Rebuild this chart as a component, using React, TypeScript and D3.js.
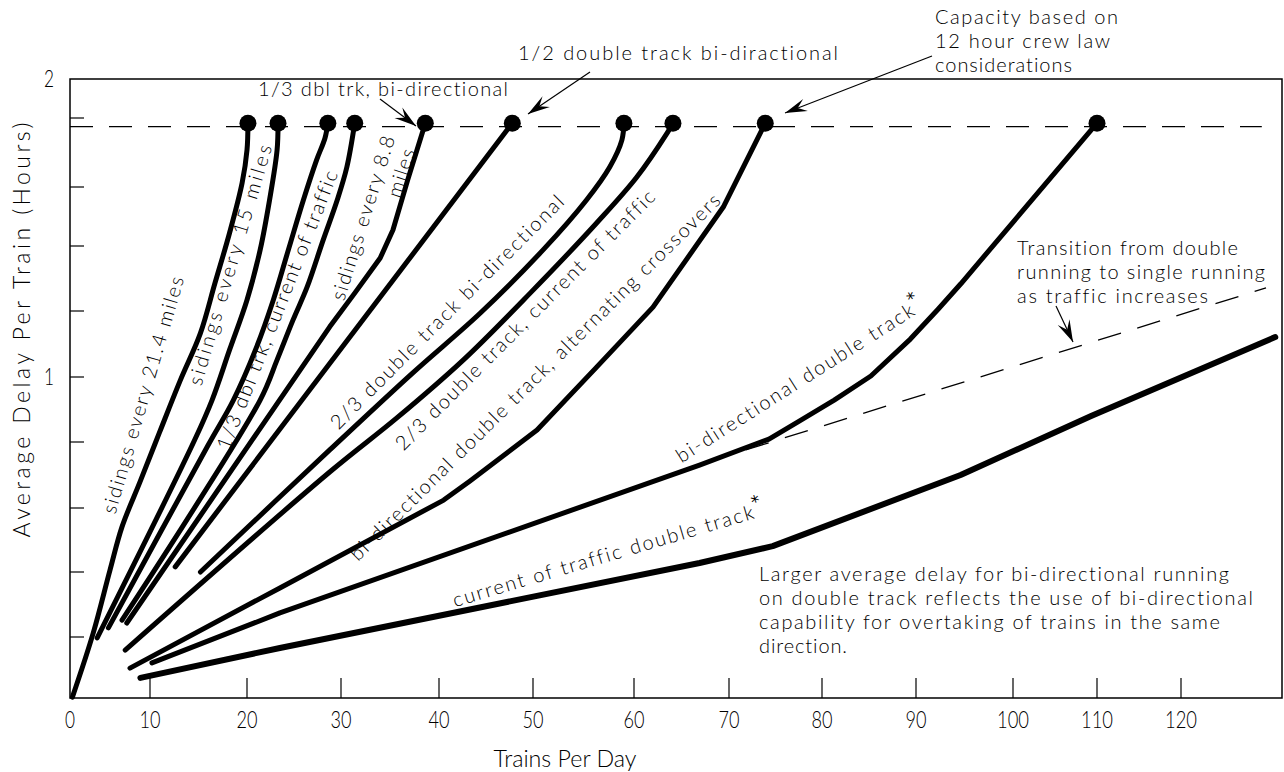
import React from "react";
import * as d3 from "d3";

type Pt = [number, number];

// ---------- axis ticks ----------
const xTickValues = [0, 10, 20, 30, 40, 50, 60, 70, 80, 90, 100, 110, 120];
const yTickValues = [0.2, 0.4, 0.6, 0.8, 1.0, 1.2, 1.4, 1.6, 1.8];
const yLabelValues = [1, 2];

// ---------- capacity (12 hour crew law) ----------
const capacityDelay = 1.775;
const capacityMaxTrains = 129.6;

// ---------- series: [trains per day, average delay (hours)] ----------
const sidings21: Pt[] = [[0.3, 0.003], [2.9, 0.212], [5.0, 0.406], [6.5, 0.541], [8.75, 0.679], [11.0, 0.831], [13.1, 0.988], [15.2, 1.133], [16.7, 1.286], [18.2, 1.444], [19.5, 1.612], [20.0, 1.707], [20.1, 1.785]];
const sidings15: Pt[] = [[3.4, 0.197], [14.6, 0.806], [16.4, 0.929], [18.2, 1.082], [20.0, 1.234], [21.4, 1.388], [22.4, 1.556], [23.2, 1.707], [23.3, 1.785]];
const thirdDblCurrent: Pt[] = [[4.8, 0.228], [16.0, 0.791], [18.6, 0.929], [20.9, 1.082], [22.8, 1.234], [24.4, 1.388], [26.0, 1.556], [27.4, 1.678], [28.3, 1.742], [28.6, 1.785]];
const sidings88: Pt[] = [[6.5, 0.252], [21.4, 0.929], [23.2, 1.052], [24.9, 1.173], [26.4, 1.274], [28.1, 1.42], [29.6, 1.556], [30.6, 1.658], [31.4, 1.785]];
const thirdDblBidir: Pt[] = [[7.1, 0.243], [28.8, 1.152], [31.4, 1.255], [34.0, 1.363], [35.3, 1.454], [36.8, 1.62], [38.6, 1.785]];
const halfDblBidir: Pt[] = [[12.6, 0.416], [47.8, 1.785]];
const twoThirdsBidir: Pt[] = [[15.2, 0.4], [28.8, 0.776], [37.3, 1.012], [44.4, 1.194], [51.0, 1.388], [55.3, 1.556], [57.6, 1.658], [58.8, 1.736], [59.0, 1.785]];
const twoThirdsCurrent: Pt[] = [[6.9, 0.157], [28.8, 0.709], [35.7, 0.874], [42.6, 1.052], [49.7, 1.255], [56.3, 1.478], [60.3, 1.629], [63.5, 1.757], [64.1, 1.785]];
const bidirAltCrossovers: Pt[] = [[7.5, 0.098], [23.5, 0.351], [40.5, 0.624], [43.3, 0.682], [50.4, 0.837], [56.3, 1.03], [62.0, 1.212], [69.4, 1.532], [73.9, 1.785]];
const bidirDouble: Pt[] = [[10.2, 0.115], [23.5, 0.274], [66.9, 0.73], [74.3, 0.809], [77.6, 0.865], [81.3, 0.929], [85.2, 1.003], [89.4, 1.115], [92.3, 1.206], [94.6, 1.283], [110.0, 1.785]];
const currentDouble: Pt[] = [[8.8, 0.066], [23.5, 0.164], [66.9, 0.428], [74.7, 0.481], [94.6, 0.7], [109.3, 0.88], [131.2, 1.121]];
const transitionLine: Pt[] = [[71.8, 0.776], [130.1, 1.271]];

const W = 1284;
const H = 772;

function arrowHead(sx: number, sy: number, tx: number, ty: number, L = 22, Wd = 6.5) {
  const dx = tx - sx, dy = ty - sy;
  const len = Math.hypot(dx, dy);
  const ux = dx / len, uy = dy / len;
  const nx = -uy, ny = ux;
  const bx = tx - ux * L, by = ty - uy * L;
  const mx = tx - ux * L * 0.62, my = ty - uy * L * 0.62;
  return `M${tx},${ty}L${bx + nx * Wd},${by + ny * Wd}L${mx},${my}L${bx - nx * Wd},${by - ny * Wd}Z`;
}

export default function App() {
  // hand-drawn axis calibration (piecewise linear)
  const x = d3
    .scaleLinear()
    .domain([0, 10, 20, 30, 40, 50, 60, 70, 80, 90, 100, 110, 120, 132])
    .range([70, 150, 247, 341, 439, 533, 634, 729, 822, 916, 1013, 1097, 1181, 1282]);
  const y = d3
    .scaleLinear()
    .domain([0, 0.2, 0.4, 0.6, 0.8, 1.0, 1.2, 1.4, 1.6, 1.8, 2.0])
    .range([698, 637, 572, 508, 442, 377, 311, 246, 187, 118, 79]);

  const straight = d3.line<Pt>().x((d) => x(d[0])).y((d) => y(d[1]));
  const smooth = d3
    .line<Pt>()
    .x((d) => x(d[0]))
    .y((d) => y(d[1]))
    .curve(d3.curveCatmullRom.alpha(0.5));

  const series = [
    { pts: sidings21, curve: smooth, dot: true, w: 5 },
    { pts: sidings15, curve: smooth, dot: true, w: 5 },
    { pts: thirdDblCurrent, curve: smooth, dot: true, w: 5 },
    { pts: sidings88, curve: smooth, dot: true, w: 5 },
    { pts: thirdDblBidir, curve: straight, dot: true, w: 5 },
    { pts: halfDblBidir, curve: straight, dot: true, w: 5 },
    { pts: twoThirdsBidir, curve: smooth, dot: true, w: 5 },
    { pts: twoThirdsCurrent, curve: smooth, dot: true, w: 5 },
    { pts: bidirAltCrossovers, curve: straight, dot: true, w: 5 },
    { pts: bidirDouble, curve: straight, dot: true, w: 5 },
    { pts: currentDouble, curve: straight, dot: false, w: 6 },
  ];

  const x0 = x(0), x1 = x(132), yTop = y(2), yBot = y(0);
  const font = "Lato, 'DejaVu Sans', sans-serif";
  const fw = 300;
  const annSize = 20;
  const axSize = 23;

  const rotLabels = [
    { t: "sidings every 21.4 miles", cx: 143, cy: 395, a: -73.7, len: 246 },
    { t: "sidings every 15 miles", cx: 230, cy: 265, a: -73.5, len: 250 },
    { t: "1/3 dbl trk, current of traffic", cx: 277, cy: 310, a: -68.5, len: 298 },
    { t: "sidings every 8.8", cx: 363, cy: 218, a: -72.6, len: 171 },
    { t: "miles", cx: 401, cy: 173, a: -72, len: 50 },
    { t: "2/3 double track bi-directional", cx: 447, cy: 312, a: -45, len: 321 },
    { t: "2/3 double track, current of traffic", cx: 525, cy: 320, a: -45, len: 358 },
    { t: "bi-directional double track, alternating crossovers", cx: 535, cy: 377, a: -44.7, len: 512 },
  ];

  const starLabels = [
    { t: "bi-directional double track", cx: 795, cy: 383, a: -32.4, len: 278 },
    { t: "current of traffic double track", cx: 603, cy: 556, a: -16.5, len: 313 },
  ];

  const arrows = [
    { sx: 380, sy: 99, tx: 416, ty: 126 },
    { sx: 590, sy: 72, tx: 528, ty: 114 },
    { sx: 932, sy: 56, tx: 785, ty: 113 },
    { sx: 1056, sy: 306, tx: 1073, ty: 342 },
  ];

  const blocks = [
    { x: 935, lines: [["Capacity based on", 24, 183], ["12 hour crew law", 48, 175], ["considerations", 72, 137]] },
    { x: 1017, lines: [["Transition from double", 255, 221], ["running to single running", 279, 248], ["as traffic increases", 303, 191]] },
    {
      x: 759,
      lines: [
        ["Larger average delay for bi-directional running", 581, 470],
        ["on double track reflects the use of bi-directional", 605, 494],
        ["capability for overtaking of trains in the same", 629, 461],
        ["direction.", 653, 88],
      ],
    },
    { x: 258, lines: [["1/3 dbl trk, bi-directional", 96, 250]] },
    { x: 518, lines: [["1/2 double track bi-diractional", 60, 320]] },
  ];

  return (
    <svg
      width={W}
      height={H}
      viewBox={`0 0 ${W} ${H}`}
      style={{ position: "absolute", left: 0, top: 0, background: "#fff", fontVariantLigatures: "none" }}
      fontFamily={font}
      fontWeight={fw}
    >
      <rect x={0} y={0} width={W} height={H} fill="#fff" />

      {/* frame */}
      <path d={`M${x0},${yTop}H${x1}V${yBot}H${x0}Z`} fill="none" stroke="#000" strokeWidth={1.5} />

      {/* x ticks */}
      {xTickValues.slice(1).map((v) => (
        <line key={`xt${v}`} x1={x(v)} x2={x(v)} y1={yBot} y2={yBot - 20} stroke="#000" strokeWidth={1.2} />
      ))}
      {xTickValues.map((v) => {
        const s = String(v);
        return (
          <text
            key={`xl${v}`}
            x={x(v)}
            y={728}
            fontSize={axSize}
            textAnchor="middle"
            textLength={11 * s.length - 1}
            lengthAdjust="spacingAndGlyphs"
          >
            {s}
          </text>
        );
      })}

      {/* y ticks */}
      {yTickValues.map((v) => (
        <line key={`yt${v}`} x1={x0} x2={x0 + 14} y1={y(v)} y2={y(v)} stroke="#000" strokeWidth={1.2} />
      ))}
      {yLabelValues.map((v) => (
        <text key={`yl${v}`} x={49} y={y(v) + 8} fontSize={axSize} textAnchor="middle" textLength={10} lengthAdjust="spacingAndGlyphs">
          {String(v)}
        </text>
      ))}

      {/* axis titles */}
      <text x={565} y={767} fontSize={axSize} textAnchor="middle" textLength={143} lengthAdjust="spacingAndGlyphs">
        Trains Per Day
      </text>
      <text
        transform={`translate(30,330) rotate(-90)`}
        fontSize={axSize}
        textAnchor="middle"
        textLength={415}
        lengthAdjust="spacing"
      >
        Average Delay Per Train (Hours)
      </text>

      {/* capacity line */}
      <line
        x1={x(0)}
        x2={x(capacityMaxTrains)}
        y1={y(capacityDelay)}
        y2={y(capacityDelay)}
        stroke="#000"
        strokeWidth={1.4}
        strokeDasharray="23 16"
      />

      {/* transition dashed line */}
      <path d={straight(transitionLine) || ""} fill="none" stroke="#000" strokeWidth={1.3} strokeDasharray="24 17" />

      {/* series */}
      {series.map((s, i) => (
        <g key={`s${i}`}>
          <path
            d={s.curve(s.pts) || ""}
            fill="none"
            stroke="#000"
            strokeWidth={s.w}
            strokeLinecap="round"
            strokeLinejoin="round"
          />
          {s.dot && (
            <circle cx={x(s.pts[s.pts.length - 1][0])} cy={y(s.pts[s.pts.length - 1][1])} r={8.5} fill="#000" />
          )}
        </g>
      ))}

      {/* rotated labels */}
      {rotLabels.map((l, i) => (
        <text
          key={`rl${i}`}
          transform={`translate(${l.cx},${l.cy}) rotate(${l.a})`}
          fontSize={annSize}
          textAnchor="middle"
          dy="0.35em"
          textLength={l.len}
          lengthAdjust="spacing"
        >
          {l.t}
        </text>
      ))}
      {starLabels.map((l, i) => (
        <g key={`sl${i}`} transform={`translate(${l.cx},${l.cy}) rotate(${l.a})`}>
          <text
            fontSize={annSize}
            textAnchor="middle"
            dy="0.35em"
            textLength={l.len}
            lengthAdjust="spacing"
          >
            {l.t}
          </text>
          <text
            x={l.len / 2 + 1}
            y={-3}
            fontSize={17}
            fontFamily="'DejaVu Sans', sans-serif"
            fontWeight={400}
          >
            *
          </text>
        </g>
      ))}

      {/* text blocks */}
      {blocks.map((b, i) =>
        b.lines.map((ln, j) => (
          <text
            key={`b${i}-${j}`}
            x={b.x}
            y={ln[1] as number}
            fontSize={annSize}
            textLength={ln[2] as number}
            lengthAdjust="spacing"
          >
            {ln[0] as string}
          </text>
        ))
      )}

      {/* arrows */}
      {arrows.map((a, i) => (
        <g key={`a${i}`}>
          <line x1={a.sx} y1={a.sy} x2={a.tx} y2={a.ty} stroke="#000" strokeWidth={1.2} />
          <path d={arrowHead(a.sx, a.sy, a.tx, a.ty)} fill="#000" />
        </g>
      ))}
    </svg>
  );
}
